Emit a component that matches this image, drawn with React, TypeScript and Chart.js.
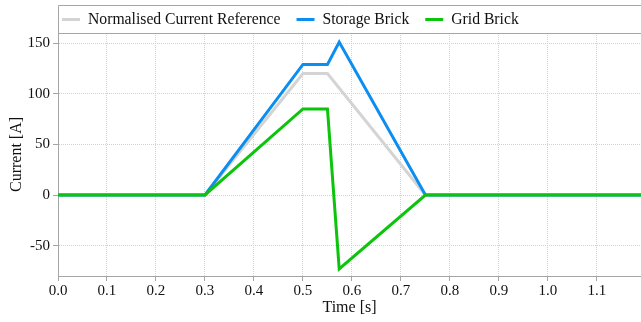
import React, { useEffect, useRef } from "react";
import { Chart, registerables } from "chart.js";

Chart.register(...registerables);

// Time breakpoints [s] and currents [A] for each trace
const refTime = [0, 0.3, 0.5, 0.55, 0.75, 1.19];
const refCurrent = [0, 0, 120, 120, 0, 0];

const storageTime = [0, 0.3, 0.5, 0.55, 0.574, 0.75, 1.19];
const storageCurrent = [0, 0, 129, 129, 151, 0, 0];

const gridTime = [0, 0.3, 0.5, 0.55, 0.574, 0.75, 1.19];
const gridCurrent = [0, 0, 85, 85, -73, 0, 0];

const seriesLabels = ["Normalised Current Reference", "Storage Brick", "Grid Brick"];
const seriesColors = ["#d4d4d4", "#0b8ef0", "#0cc40c"];

const FONT = "'Liberation Serif', 'Times New Roman', serif";
const AXIS_COLOR = "#a6a6a6";
const GRID_COLOR = "#d2d2d2";

const toPoints = (xs: number[], ys: number[]) => xs.map((x, i) => ({ x, y: ys[i] }));

// Framed legend strip above the plot area, aligned with its left edge
const framedLegend = {
  id: "framedLegend",
  afterDraw(chart: any) {
    const { ctx, chartArea } = chart;
    const left = chartArea.left;
    const right = chart.width;
    const top = 5;
    const bottom = chartArea.top;
    ctx.save();
    ctx.strokeStyle = AXIS_COLOR;
    ctx.lineWidth = 1;
    ctx.beginPath();
    ctx.moveTo(left + 0.5, bottom);
    ctx.lineTo(left + 0.5, top + 0.5);
    ctx.lineTo(right, top + 0.5);
    ctx.moveTo(left, bottom + 0.5);
    ctx.lineTo(right, bottom + 0.5);
    ctx.stroke();

    const cy = (top + bottom) / 2 + 0.5;
    ctx.font = `15.7px ${FONT}`;
    ctx.textBaseline = "middle";
    ctx.fillStyle = "#111";
    let x = left + 4;
    seriesLabels.forEach((label, i) => {
      ctx.strokeStyle = seriesColors[i];
      ctx.lineWidth = 3;
      ctx.beginPath();
      ctx.moveTo(x, cy);
      ctx.lineTo(x + 18, cy);
      ctx.stroke();
      x += 26;
      ctx.fillText(label, x, cy);
      x += ctx.measureText(label).width + 16;
    });
    ctx.restore();
  },
};

export default function App() {
  const canvasRef = useRef<HTMLCanvasElement | null>(null);

  useEffect(() => {
    document.body.style.margin = "0";
    const canvas = canvasRef.current;
    if (!canvas) return;

    const series = [
      { t: refTime, v: refCurrent },
      { t: storageTime, v: storageCurrent },
      { t: gridTime, v: gridCurrent },
    ];

    const chart = new Chart(canvas, {
      type: "line",
      data: {
        datasets: series.map((s, i) => ({
          label: seriesLabels[i],
          data: toPoints(s.t, s.v),
          borderColor: seriesColors[i],
          backgroundColor: seriesColors[i],
          borderWidth: 3,
          pointRadius: 0,
          tension: 0,
          order: 3 - i,
        })),
      },
      options: {
        animation: false,
        responsive: false,
        layout: { padding: { top: 33, right: 0, left: 0, bottom: 0 } },
        plugins: {
          legend: { display: false },
          tooltip: { enabled: false },
        },
        scales: {
          x: {
            type: "linear",
            min: 0,
            max: 1.19,
            afterFit: (scale: any) => {
              scale.height = 46;
            },
            ticks: {
              stepSize: 0.1,
              includeBounds: false,
              maxRotation: 0,
              padding: 1,
              color: "#111",
              font: { family: FONT, size: 15 },
              callback: (v: any) => Number(v).toFixed(1),
            },
            grid: {
              color: GRID_COLOR,
              tickColor: AXIS_COLOR,
              tickLength: 5,
            },
            border: { color: AXIS_COLOR, width: 1, dash: [1, 1] },
            title: {
              display: true,
              text: "Time [s]",
              color: "#111",
              font: { family: FONT, size: 16 },
              padding: { top: 0, bottom: 5 },
            },
          },
          y: {
            type: "linear",
            min: -80,
            max: 160,
            afterFit: (scale: any) => {
              scale.width = 58;
            },
            ticks: {
              stepSize: 50,
              includeBounds: false,
              padding: 3,
              color: "#111",
              font: { family: FONT, size: 15 },
            },
            grid: {
              color: GRID_COLOR,
              tickColor: AXIS_COLOR,
              tickLength: 5,
            },
            border: { color: AXIS_COLOR, width: 1, dash: [1, 1] },
            title: {
              display: true,
              text: "Current [A]",
              color: "#111",
              font: { family: FONT, size: 16 },
              padding: { top: 7, bottom: 0 },
            },
          },
        },
      },
      plugins: [framedLegend],
    });

    return () => chart.destroy();
  }, []);

  return (
    <div style={{ width: 641, height: 322 }}>
      <canvas ref={canvasRef} width={641} height={322} style={{ display: "block" }} />
    </div>
  );
}
